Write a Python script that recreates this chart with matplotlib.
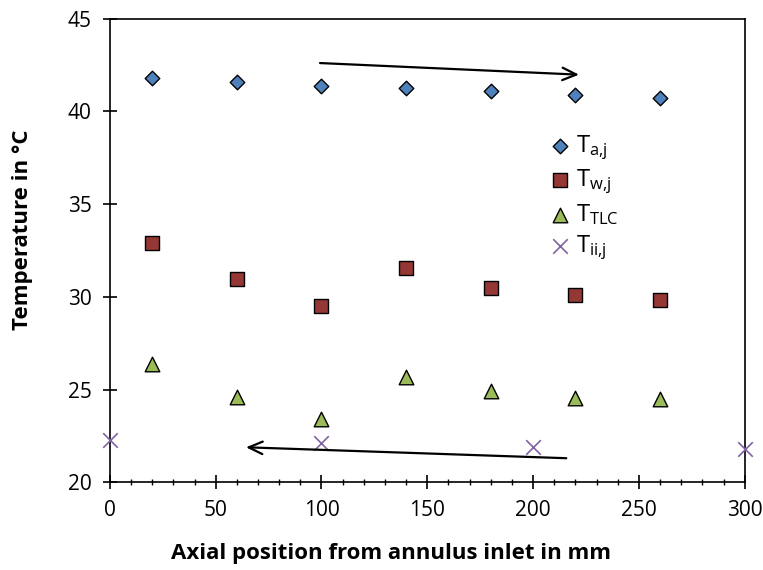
import numpy as np
import matplotlib
matplotlib.use("Agg")
import matplotlib.pyplot as plt
from matplotlib.ticker import MultipleLocator

#----------Data------------------------------
x_pos = [20, 60, 100, 140, 180, 220, 260]
T_a = [41.8, 41.6, 41.4, 41.25, 41.1, 40.9, 40.75]
T_w = [32.9, 30.95, 29.5, 31.55, 30.5, 30.1, 29.85]
T_tlc = [26.4, 24.6, 23.4, 25.65, 24.9, 24.55, 24.5]

x_ii = [0, 100, 200, 300]
T_ii = [22.3, 22.1, 21.9, 21.8]

# flow direction arrows (start, end) in data units
arrow_top = [(98, 42.62), (223, 41.98)]
arrow_bottom = [(217, 21.29), (63, 21.89)]

#----------Style-----------
plt.rcParams['font.family'] = ['Open Sans', 'DejaVu Sans']
plt.rcParams['mathtext.fontset'] = 'custom'
plt.rcParams['mathtext.rm'] = 'Open Sans'
plt.rcParams['mathtext.it'] = 'Open Sans'

fig = plt.figure(figsize=(7.63, 5.70), dpi=100)
ax = fig.add_axes([0.144, 0.154, 0.832, 0.813])

ax.scatter(x_pos, T_a, marker='D', s=55, facecolor='#4F81BD', edgecolor='black', linewidth=1, label=r'$\mathrm{T_{a{,}j}}$', zorder=3)
ax.scatter(x_pos, T_w, marker='s', s=110, facecolor='#953735', edgecolor='black', linewidth=1, label=r'$\mathrm{T_{w{,}j}}$', zorder=3)
ax.scatter(x_pos, T_tlc, marker='^', s=110, facecolor='#9BBB59', edgecolor='black', linewidth=1, label=r'$\mathrm{T_{TLC}}$', zorder=3)
ax.scatter(x_ii, T_ii, marker='x', s=110, color='#8064A2', linewidth=1.2, label=r'$\mathrm{T_{ii{,}j}}$', zorder=3, clip_on=False)

for a in (arrow_top, arrow_bottom):
    ax.annotate('', xy=a[1], xytext=a[0],
                arrowprops=dict(arrowstyle='->,head_length=1.0,head_width=0.45', color='black', lw=1.6))

ax.set_xlim(0, 300)
ax.set_ylim(20, 45)
ax.xaxis.set_major_locator(MultipleLocator(50))
ax.xaxis.set_minor_locator(MultipleLocator(10))
ax.yaxis.set_major_locator(MultipleLocator(5))
ax.tick_params(which='major', direction='inout', length=10, width=1.2, labelsize=15, pad=8)
ax.tick_params(which='minor', direction='inout', length=5, width=1)
for s in ax.spines.values():
    s.set_linewidth(1.2)

ax.set_xlabel('Axial position from annulus inlet in mm', fontsize=16, fontweight='bold', va='center')
ax.set_ylabel('Temperature in °C', fontsize=16, fontweight='bold', va='center')
ax.xaxis.set_label_coords(0.443, -0.153)
ax.yaxis.set_label_coords(-0.138, 0.544)

ax.legend(loc='upper left', bbox_to_anchor=(0.668, 0.779), frameon=False, fontsize=17,
          handletextpad=0.1, labelspacing=0.25, handlelength=1.2, borderpad=0)

fig.savefig('out.png', dpi=100)
